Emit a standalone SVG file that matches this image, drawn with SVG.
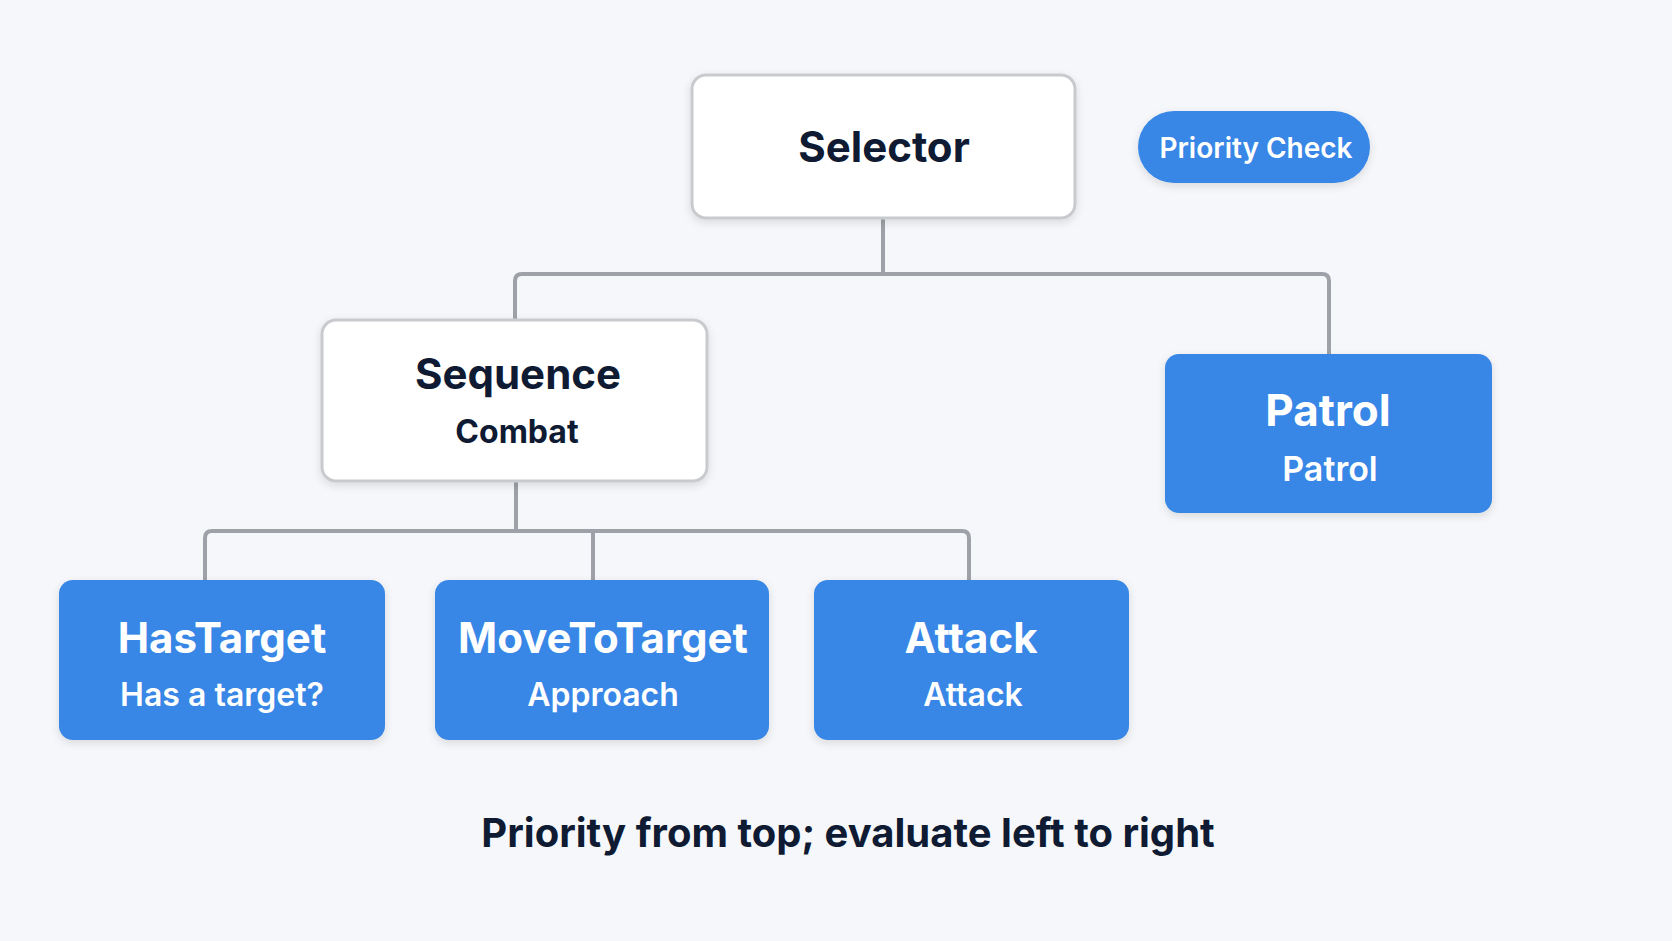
<svg xmlns="http://www.w3.org/2000/svg" width="1672" height="941" viewBox="0 0 1672 941">
<defs>
<filter id="sh" x="-10%" y="-10%" width="120%" height="130%"><feDropShadow dx="0" dy="3" stdDeviation="4" flood-color="#000" flood-opacity="0.12"/></filter>
</defs>
<style>
text{font-family:Inter,"Noto Sans",sans-serif;text-anchor:middle;dominant-baseline:central}
.w{fill:#fff;stroke:#c8cacd;stroke-width:3;filter:url(#sh)}
.b{fill:#3786e6;filter:url(#sh)}
.dt{fill:#0f1a33;font-weight:700}
.lt{fill:#fff;font-weight:700}
.ls{fill:#fff;font-weight:600}
.c{fill:none;stroke:#9ea2a8;stroke-width:4;stroke-linejoin:round}
</style>
<rect width="1672" height="941" fill="#f5f7fa"/>
<g id="connectors">
<path class="c" d="M883 218V274M515 320V281Q515 274 522 274H1322Q1329 274 1329 281V354"/>
<path class="c" d="M516 481V531M205 580V538Q205 531 212 531H962Q969 531 969 538V580M593 531V580"/>
</g>
<g id="selector"><rect class="w" x="692" y="75" width="383" height="143" rx="14"/><text class="dt" x="884" y="146" font-size="42">Selector</text></g>
<g id="priority"><rect class="b" x="1138" y="111" width="232" height="72" rx="36"/><text class="ls" x="1256" y="148" font-size="28">Priority Check</text></g>
<g id="sequence"><rect class="w" x="322" y="320" width="385" height="161" rx="14"/><text class="dt" x="518" y="373" font-size="42">Sequence</text><text class="dt" x="517" y="431" font-size="32" font-weight="600">Combat</text></g>
<g id="patrol"><rect class="b" x="1165" y="354" width="327" height="159" rx="14"/><text class="lt" x="1328" y="410" font-size="44">Patrol</text><text class="ls" x="1330" y="468" font-size="34">Patrol</text></g>
<g id="hastarget"><rect class="b" x="59" y="580" width="326" height="160" rx="14"/><text class="lt" x="222" y="637" font-size="42">HasTarget</text><text class="ls" x="222" y="694" font-size="32">Has a target?</text></g>
<g id="movetotarget"><rect class="b" x="435" y="580" width="334" height="160" rx="14"/><text class="lt" x="603" y="637" font-size="42">MoveToTarget</text><text class="ls" x="603" y="694" font-size="32">Approach</text></g>
<g id="attack"><rect class="b" x="814" y="580" width="315" height="160" rx="14"/><text class="lt" x="971" y="637" font-size="42">Attack</text><text class="ls" x="973" y="694" font-size="32">Attack</text></g>
<text class="dt" x="848" y="832" font-size="40" font-weight="600">Priority from top; evaluate left to right</text>
</svg>
